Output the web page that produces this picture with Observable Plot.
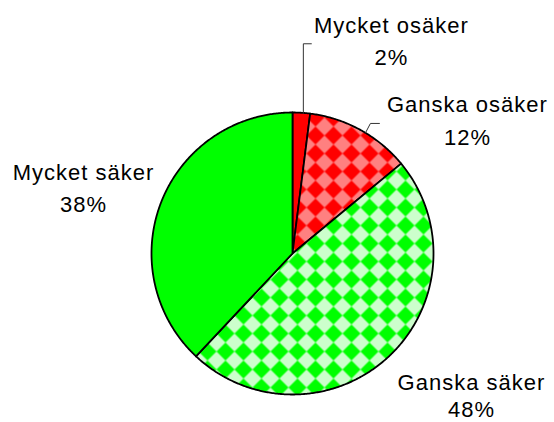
<!DOCTYPE html>
<html>
<head>
<meta charset="utf-8">
<script src="https://cdn.jsdelivr.net/npm/d3@7"></script>
<script src="https://cdn.jsdelivr.net/npm/@observablehq/plot@0.6"></script>
<style>
  html, body { margin: 0; padding: 0; background: #fff; }
  #chart svg { display: block; }
</style>
</head>
<body>
<div id="chart"></div>
<script>
// ---- data ----
const categories = ["Mycket osäker", "Ganska osäker", "Ganska säker", "Mycket säker"];
const values = [2, 12, 48, 38];
const fills = ["#ff0000", "url(#redCheck)", "url(#greenCheck)", "#00ff00"];

// ---- layout (pixels) ----
const W = 554, H = 422, cx = 292, cy = 253, R = 141;
// label offsets from the slice's mid-arc edge point: [dx, name baseline dy, percent baseline dy]
const labelLayout = [[90, -79.3, -47.3], [107, -17.5, 15.5], [82.4, 33.7, 61.2], [-77.9, -21.1, 10.9]];
// leader polylines, offsets from the mid-arc edge point
const leaderLayout = [[[2, 0.5], [2, -69], [10, -69]], [[5, 3], [10, -6.5], [19, -6.5]], null, null];

// ---- geometry from values ----
const pieArcs = d3.pie().sort(null).value(d => d)(values);
const slicePoints = pieArcs.flatMap((a, i) => {
  const n = Math.max(2, Math.ceil((a.endAngle - a.startAngle) / (Math.PI / 360)));
  const pts = [{slice: categories[i], fill: fills[i], x: 0, y: 0}];
  for (let k = 0; k <= n; k++) {
    const t = a.startAngle + (a.endAngle - a.startAngle) * k / n;
    pts.push({slice: categories[i], fill: fills[i], x: Math.sin(t), y: Math.cos(t)});
  }
  return pts;
});
const labelData = pieArcs.map((a, i) => {
  const mid = (a.startAngle + a.endAngle) / 2;
  return {name: categories[i], pct: `${values[i]}%`, ex: Math.sin(mid), ey: Math.cos(mid), off: labelLayout[i]};
});
const leaderPoints = labelData.flatMap((d, i) =>
  leaderLayout[i] ? leaderLayout[i].map(([dx, dy]) => ({id: i, x: d.ex + dx / R, y: d.ey - dy / R})) : []
);

function patternDefs() {
  const ns = "http://www.w3.org/2000/svg";
  const defs = document.createElementNS(ns, "defs");
  for (const [id, light, dark] of [["redCheck", "#ff8080", "#ff0000"], ["greenCheck", "#ccffcc", "#00ff00"]]) {
    const p = document.createElementNS(ns, "pattern");
    p.setAttribute("id", id);
    p.setAttribute("patternUnits", "userSpaceOnUse");
    p.setAttribute("width", 18);
    p.setAttribute("height", 18);
    const r = document.createElementNS(ns, "rect");
    r.setAttribute("width", 18); r.setAttribute("height", 18); r.setAttribute("fill", light);
    const poly = document.createElementNS(ns, "polygon");
    poly.setAttribute("points", "9,0 18,9 9,18 0,9");
    poly.setAttribute("fill", dark);
    p.appendChild(r); p.appendChild(poly);
    defs.appendChild(p);
  }
  return defs;
}

const chart = Plot.plot({
  width: W,
  height: H,
  marginLeft: cx - R,
  marginRight: W - (cx + R),
  marginTop: cy - R,
  marginBottom: H - (cy + R),
  x: {domain: [-1, 1], axis: null},
  y: {domain: [-1, 1], axis: null},
  color: {type: "identity"},
  style: "font-family: 'Liberation Sans', Arial, sans-serif; letter-spacing: 1px; background: white;",
  marks: [
    patternDefs,
    Plot.line(slicePoints, {x: "x", y: "y", z: "slice", fill: "fill", stroke: "black", strokeWidth: 1.8, strokeLinejoin: "round", curve: "linear-closed"}),
    Plot.line(leaderPoints, {x: "x", y: "y", z: "id", stroke: "#333", strokeWidth: 1}),
    Plot.text(labelData, {x: d => d.ex + d.off[0] / R, y: d => d.ey - d.off[1] / R, text: "name", lineAnchor: "bottom", textAnchor: "middle", fontSize: 22, fill: "black"}),
    Plot.text(labelData, {x: d => d.ex + d.off[0] / R, y: d => d.ey - d.off[2] / R, text: "pct", lineAnchor: "bottom", textAnchor: "middle", fontSize: 22, fill: "black"})
  ]
});
document.getElementById("chart").appendChild(chart);
</script>
</body>
</html>
